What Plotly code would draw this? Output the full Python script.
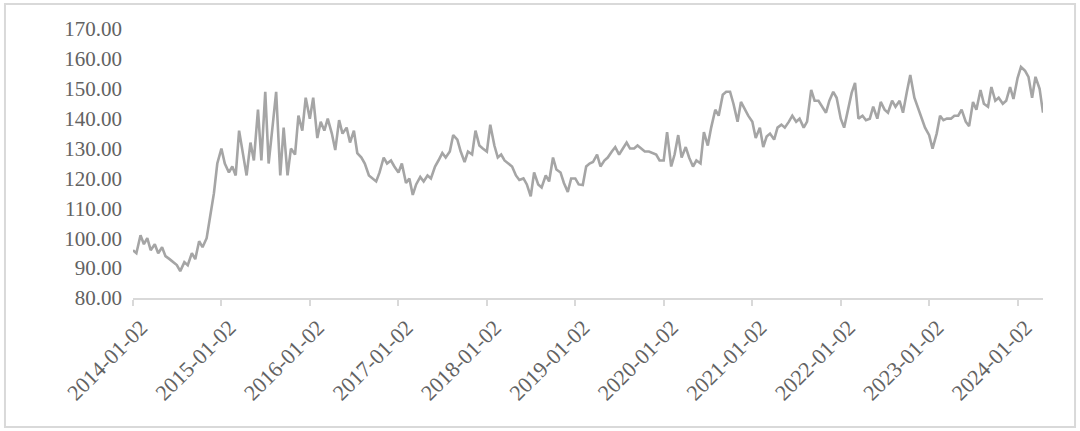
import pandas as pd
import plotly.graph_objects as go

# Semi-monthly readings (2nd / 16th of each month)
v2014 = [96, 95, 101, 98, 100, 96, 98, 95, 97, 94, 93, 92, 91, 89, 92, 91, 95, 93, 99, 97, 100, 107, 115, 125]
v2015 = [130, 125, 122, 124, 121, 136, 128, 121, 132, 126, 143, 126, 149, 125, 138, 149, 121, 137, 121, 130, 128, 141, 136, 147]
v2016 = [140, 147, 133.5, 139, 136, 140, 135, 129.5, 139.5, 135, 137, 132, 136, 128.5, 127, 125, 121, 120, 119, 122, 127, 125, 126, 124]
v2017 = [122, 125, 118.5, 120, 114.5, 118, 120.5, 119, 121, 120, 124, 126, 128.5, 127, 129, 134.5, 133, 129, 125.5, 129, 128, 136, 131, 130]
v2018 = [129, 138, 131, 127, 128, 126, 125, 124, 121, 119.5, 120, 118, 114, 122, 118, 117, 121, 119, 127, 123, 122, 118.5, 115.5, 120]
v2019 = [120, 118, 117.8, 124, 125, 125.5, 128, 124, 126, 127, 129, 130.5, 128, 130, 132, 130, 130, 131, 130, 129, 129, 128.5, 128, 126]
v2020 = [126, 135.5, 124, 128, 134.5, 127, 130.5, 127, 124, 126, 125, 135.5, 131, 137, 143, 141, 148, 149, 149, 145, 139, 145.6, 143, 141]
v2021 = [139, 133.5, 137, 130.5, 134, 135, 133, 137, 138, 137, 139, 141, 139, 140, 137, 139, 149.6, 146, 146, 144, 142, 146, 149, 147]
v2022 = [140, 137, 143, 148.6, 152, 140, 141, 139.5, 140, 144, 140, 145.6, 143, 142, 146, 144, 146, 142, 149, 154.6, 147, 144, 140.5, 137]
v2023 = [134.5, 130, 135, 141, 139.5, 140, 140, 141, 141, 143, 139, 137.5, 145.6, 143, 149.6, 145, 144, 150.6, 146, 147, 145, 146, 150.6, 146.6]
v2024 = [153.6, 157.3, 156, 154, 147, 154, 150, 142]

tick_vals = ["2014-01-02", "2015-01-02", "2016-01-02", "2017-01-02", "2018-01-02", "2019-01-02",
             "2020-01-02", "2021-01-02", "2022-01-02", "2023-01-02", "2024-01-02"]
tick_text = tick_vals
y_ticks = [80, 90, 100, 110, 120, 130, 140, 150, 160, 170]

values = v2014 + v2015 + v2016 + v2017 + v2018 + v2019 + v2020 + v2021 + v2022 + v2023 + v2024
dates = []
for y in range(2014, 2025):
    for m in range(1, 13):
        for d in (2, 16):
            dates.append(pd.Timestamp(year=y, month=m, day=d))
dates = dates[:len(values)]

fig = go.Figure()
fig.add_trace(go.Scatter(x=dates, y=values, mode="lines",
                         line=dict(color="#a5a5a5", width=2.6), showlegend=False,
                         hoverinfo="x+y"))

font = dict(family="Liberation Serif, Times New Roman, serif", size=21, color="#626262")
xfont = dict(family="Liberation Serif, Times New Roman, serif", size=22, color="#626262")
fig.update_layout(
    width=1080, height=431,
    margin=dict(l=133, r=37, t=29, b=133, autoexpand=False),
    paper_bgcolor="white", plot_bgcolor="white",
    font=font,
    xaxis=dict(type="date", range=[dates[0], dates[-1]], automargin=False,
               tickvals=tick_vals, ticktext=tick_text, tickangle=-45,
               showgrid=False, zeroline=False,
               showline=True, linecolor="#d9d9d9", linewidth=2,
               ticks="outside", ticklen=6, tickcolor="#d9d9d9", tickwidth=2,
               ticklabelshift=8, tickfont=xfont),
    yaxis=dict(range=[80, 170], tickvals=y_ticks, automargin=False,
               ticktext=[f"{v:.2f}" for v in y_ticks],
               showgrid=False, zeroline=False, showline=False, ticks="",
               ticklabelstandoff=10, tickfont=font),
    shapes=[dict(type="rect", xref="paper", yref="paper",
                 x0=-0.1407, x1=1.0352, y0=-0.4796, y1=1.0929,
                 line=dict(color="#d9d9d9", width=2), fillcolor="rgba(0,0,0,0)")],
)
fig.write_html("out.html", config={"displayModeBar": False},
               post_script="document.body.style.margin='0';document.body.style.overflow='hidden';")
